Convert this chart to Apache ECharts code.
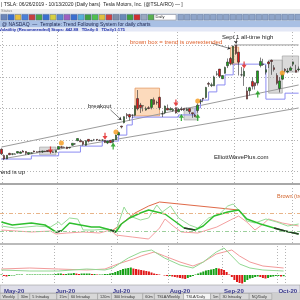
<!DOCTYPE html>
<html lang="en">
<head>
<meta charset="UTF-8" />
<title>TSLA daily - trend following</title>
<script type="text/javascript" src="https://cdn.jsdelivr.net/npm/echarts@6/dist/echarts.min.js"></script>
<style>
html, body { margin: 0; padding: 0; background: #fff; }
#main { width: 300px; height: 300px; }
</style>
</head>
<body>
<div id="main"></div>
<script type="text/javascript">
// trading days shown: Apr 30 2020 .. Oct 5 2020
var holidays = ['2020-05-25', '2020-07-03', '2020-09-07'];
var dates = [];
(function () {
    var d = new Date(Date.UTC(2020, 3, 30));
    var end = Date.UTC(2020, 9, 5);
    while (d.getTime() <= end) {
        var s = d.toISOString().slice(0, 10);
        var wd = d.getUTCDay();
        if (wd != 0 && wd != 6 && holidays.indexOf(s) < 0) dates.push(s);
        d.setUTCDate(d.getUTCDate() + 1);
    }
})();
var monthNames = ['Jan','Feb','Mar','Apr','May','Jun','Jul','Aug','Sep','Oct','Nov','Dec'];

// [open, close, low, high]
var ohlc = [
    [171.0,156.4,152.7,174.0],
    // May
    [151.0,140.3,136.6,154.6],[140.2,152.2,139.6,152.4],[158.0,153.6,152.4,159.8],[155.3,156.5,152.2,158.0],
    [155.4,156.0,155.0,158.3],[158.8,163.9,157.4,164.8],[158.1,162.3,157.0,164.8],[165.4,161.9,161.6,168.7],
    [164.2,158.2,152.7,165.2],[156.0,160.7,152.8,160.7],[158.1,159.8,157.3,161.0],[165.6,162.7,160.8,166.9],
    [163.0,161.6,161.2,164.4],[164.1,163.1,162.4,165.2],[163.2,165.5,159.2,166.5],[164.4,163.4,162.4,166.4],
    [166.9,163.8,163.1,166.9],[164.2,164.0,157.0,165.5],[162.7,161.2,160.3,165.0],[161.8,167.0,160.8,167.0],
    // Jun
    [171.6,179.6,170.8,179.8],[178.9,176.3,174.2,181.7],[177.6,176.6,176.0,179.6],[178.0,172.9,171.7,179.2],
    [175.6,177.1,173.2,177.3],[183.8,190.0,181.8,190.0],[188.0,188.1,184.8,190.9],[198.4,205.0,196.5,205.5],
    [198.0,194.6,194.4,203.8],[196.0,187.1,182.5,197.6],[183.6,198.2,181.7,199.8],[202.4,196.4,192.5,202.6],
    [197.4,198.4,196.5,201.0],[200.6,200.8,198.9,203.8],[202.4,200.2,198.3,203.2],[199.8,198.9,198.8,201.8],
    [199.8,200.4,198.8,202.4],[198.8,192.2,190.6,200.2],[190.9,197.2,187.4,197.2],[199.0,191.9,191.0,199.0],
    [193.8,201.9,189.7,202.0],[201.3,216.0,200.7,217.5],
    // Jul
    [216.6,223.9,216.1,227.1],[244.3,241.7,237.1,245.6],[255.3,274.3,253.2,275.6],[281.0,278.0,267.3,285.9],
    [281.0,273.2,262.3,283.5],[279.4,278.9,270.3,281.7],[279.2,308.9,275.2,309.8],[331.8,299.4,294.2,359.0],
    [311.2,303.4,286.2,318.0],[308.6,309.2,291.4,310.0],[295.4,300.1,293.2,306.3],[302.7,300.2,298.0,307.6],
    [303.8,328.6,297.6,330.0],[328.0,313.7,311.6,335.0],[319.8,318.5,312.4,325.3],[335.8,302.6,296.0,337.8],
    [283.2,283.4,273.3,293.0],[287.0,307.9,282.6,309.6],[300.8,295.3,294.9,312.9],[295.3,299.8,294.8,304.6],
    [294.0,297.5,290.0,302.0],[303.0,286.2,284.0,303.4],
    // Aug
    [289.8,297.0,288.9,302.0],[299.0,297.4,292.4,305.6],[300.5,297.0,292.6,300.5],[294.2,297.9,293.1,303.0],
    [300.0,290.5,283.0,300.0],[286.8,283.7,270.8,287.2],[279.2,274.9,272.9,284.0],[294.0,311.0,287.0,317.0],
    [322.0,324.2,314.2,330.2],[333.0,330.1,320.3,333.6],[335.4,367.1,332.0,369.0],[379.8,377.4,369.0,384.8],
    [373.0,375.7,368.3,382.2],[372.1,400.4,371.6,404.4],[408.9,410.0,404.3,419.1],[425.3,402.8,397.0,425.8],
    [395.0,404.7,393.6,405.6],[412.0,430.6,410.7,433.2],[436.0,447.8,428.5,459.1],[459.0,442.7,437.3,463.7],
    [444.6,498.3,440.1,500.1],
    // Sep
    [502.1,475.1,470.5,502.5],[479.0,447.4,405.1,479.0],[407.2,407.0,402.0,431.8],[402.8,418.3,372.0,428.0],
    [356.0,330.2,329.9,368.7],[356.6,366.3,341.5,369.0],[386.2,371.3,360.6,399.0],[381.9,372.7,360.5,382.5],
    [381.0,419.6,373.3,420.0],[436.6,449.8,430.7,461.9],[439.9,441.8,435.3,457.8],[415.6,423.4,408.0,437.8],
    [447.9,442.2,428.8,451.0],[453.1,449.4,407.1,455.7],[429.6,424.2,417.6,437.8],[405.2,380.4,375.9,412.2],
    [363.8,387.8,351.3,399.5],[393.5,407.3,391.3,408.7],[424.6,421.2,415.6,428.1],[416.0,419.1,411.6,428.5],
    [421.3,429.0,420.5,433.9],
    // Oct
    [440.8,448.2,434.4,448.9],[421.4,415.1,415.0,439.1],[423.4,425.7,419.3,433.6]
];

// trailing stop, [bar index, price] at each step
var stopSteps = [[0,140],[11,150],[21,162],[29,181],[37,197],[43,216],[46,248],[48,273],[65,280],[71,302],
    [73,327],[76,353],[79,375],[82,407],[85,441],[97,330],[104,349],[109,349]];
var channelLow = [[0,140],[109,302]];
var channelHigh = [[0,178],[109,375]];
var athLine = [[86,502],[109,502]];
var priceGrid = [100, 200, 300, 400, 500];

var orangeDots = [[22,191],[42,226],[72,324],[103,413]];
var redArrows = [[18,169],[38,212],[64,318],[89,438]];
var greenArrows = [[41,181],[66,272],[72,272],[94,346]];
// [from bar, to bar, low, high]
var greyBoxes = [[14,20,153,178],[67,72,264,302],[98,103,349,454],[103,109,416,467]];
var brownBoxes = [[49,58,277,365],[84,87,441,495]];

// upper indicator panel
var adxLine = [[0,21],[4,18],[11,20],[16,18],[20,11],[22,12],[25,20],[29,18],[33,16],[36,16],[40,13],[42,11],
    [44,19],[47,25],[51,30],[54,33],[60,29],[63,23],[67,15],[71,13],[74,17],[78,27],[83,31],[87,33],
    [90,24],[95,19],[100,15],[104,12],[109,9]];
var adxDark = [[20,22],[40,42],[67,71],[100,109]];
var adxFast = [[0,17],[5,15],[13,17],[18,16],[21,21],[22,18],[25,25],[28,24],[30,13],[34,13],[39,14],[42,12],
    [45,36],[46,31],[48,26],[51,23],[54,25],[57,38],[59,31],[62,37],[65,25],[69,18],[72,15],[76,25],
    [80,29],[83,37],[85,39],[88,30],[90,22],[93,20],[97,24],[101,21],[105,17],[109,19]];
var diMinus = [[0,13],[11,11],[18,12],[20,9],[24,10],[30,11],[36,10],[40,13],[42,8],[48,6],[54,4],[58,15],
    [60,24],[63,17],[66,11],[72,10],[79,16],[84,23],[87,27],[90,21],[93,13],[96,19],[98,24],[103,20],[109,17]];
var diPlus = [[40,11],[43,17],[49,30],[54,37],[58,41],[87,33],[88,30]];
var levelHigh = 30, levelLow = 12;

// lower indicator panel
var histVals = [
    0.5,
    -1,-1.5,-1,-0.5,-0.5,0.5,0.5,0.5,0,0.5,0.5,0.5,0.5,0.5,0.5,0.5,0.5,0.5,0.5,0.5,
    1,1.5,1.5,1,1,1.5,1.5,2,1.5,1,1.5,1.5,1.5,1.5,1,1,0.5,0.5,0.5,1,1,1.5,
    2,3,4,5,6,6.5,7,7.5,6.5,6,5.5,5,4.5,4,3.5,2.5,1.5,1,0.5,0,-0.5,-1,
    -1,-1.5,-2,-2.5,-3,-3.5,-4,-3,-2,-1,0.5,1.5,2.5,3.5,4.5,5,5.5,6,7,6.5,6,
    5,3,0.5,-2,-5,-7,-8,-8.5,-7,-5,-3.5,-3,-2,-1.5,-2,-3,-3.5,-3,-2,-1.5,-1,
    -1,-1.5,-1.2
];
var macdLine = [[0,6],[11,7],[22,6],[33,5],[40,6],[45,11],[51,16],[54,19],[59,23],[63,19],[69,13],[74,9],
    [78,13],[83,21],[89,25],[92,19],[96,13],[101,9],[109,7]];
var signalLine = [[0,5],[11,4],[22,4],[33,6],[40,5],[43,7],[49,17],[54,23],[58,25],[63,17],[69,10],[74,7],
    [78,13],[83,23],[86,27],[89,19],[92,11],[96,7],[101,5],[109,4]];

var tabNames = ['Weekly','30m','5 Intraday','15m','60 Intraday','120m','300 Intraday','60m','TSLA/Weekly','TSLA/Daily','5m','30 Intraday','NQ/Daily'];
var toolColors = ['#6b86b8','#3a6fd0','#e8c040','#4a7fd8','#c84040','#48a848','#3a6fd0','#d8d040','#5888d0','#a060c0',
    '#3a6fd0','#58b0d8','#40a040','#50c050','#e0c040','#d04040','#8090a8','#6a8ab8','#40a040','#d03030','#9aa8c0','#5ab050'];

function monthStart(i) {
    return i > 0 && dates[i].slice(5, 7) != dates[i - 1].slice(5, 7);
}
function monthLabel(v) {
    return monthNames[parseInt(v.slice(5, 7), 10) - 1] + '-' + v.slice(2, 4);
}
function box(b, style) {
    return [{ xAxis: dates[b[0]], yAxis: b[2], itemStyle: style }, { xAxis: dates[b[1]], yAxis: b[3] }];
}

var myChart = echarts.init(document.getElementById('main'));

var dotted = { show: true, interval: function (i) { return monthStart(i); },
    lineStyle: { color: '#b4b4b4', type: [1, 2], width: 1 } };
function xax(grid, showLabel) {
    return {
        type: 'category', gridIndex: grid, data: dates, boundaryGap: true,
        axisLine: { show: false }, axisTick: { show: false },
        axisLabel: showLabel ? {
            show: true, interval: function (i) { return monthStart(i); },
            formatter: monthLabel, fontSize: 6, fontWeight: 'bold', color: '#3c3c8c',
            fontFamily: 'Liberation Sans', margin: 3, align: 'left'
        } : { show: false },
        splitLine: dotted
    };
}

var series = [];
var greyStyle = { color: 'rgba(150,150,150,0.35)', borderColor: '#9a9a9a', borderWidth: 0.6 };
var brownStyle = { color: 'rgba(251,205,165,0.75)', borderColor: '#e59a66', borderWidth: 0.8 };
var areas = greyBoxes.map(function (b) { return box(b, greyStyle); })
    .concat(brownBoxes.map(function (b) { return box(b, brownStyle); }));

series.push({
    type: 'line', xAxisIndex: 0, yAxisIndex: 0, data: [], z: 1, silent: true,
    markArea: { silent: true, data: areas },
    markLine: {
        silent: true, symbol: 'none', label: { show: false },
        lineStyle: { color: '#b4b4b4', type: [1, 2], width: 1 },
        data: priceGrid.map(function (p) { return { yAxis: p }; })
    }
});
function simpleLine(data, color, width, xi, extra) {
    var s = {
        type: 'line', xAxisIndex: xi, yAxisIndex: xi, data: data, symbol: 'none', silent: true,
        lineStyle: { color: color, width: width }, z: 3
    };
    for (var k in extra) s[k] = extra[k];
    return s;
}
series.push(simpleLine(channelLow, '#9c9c9c', 1, 0));
series.push(simpleLine(channelHigh, '#9c9c9c', 1, 0));
series.push(simpleLine(athLine, '#9c9c9c', 1, 0));
series.push(simpleLine(stopSteps, '#8c8cf2', 1, 0, { step: 'end' }));
series.push({
    type: 'candlestick', xAxisIndex: 0, yAxisIndex: 0, data: ohlc, barWidth: 2, z: 5,
    itemStyle: { color: '#18a818', color0: '#e01818', borderColor: '#2a2a2a', borderColor0: '#2a2a2a', borderWidth: 0.6 }
});
series.push({
    type: 'scatter', xAxisIndex: 0, yAxisIndex: 0, data: orangeDots, symbolSize: 5, z: 6,
    itemStyle: { color: '#f59a1a' }
});
series.push({
    type: 'scatter', xAxisIndex: 0, yAxisIndex: 0, data: redArrows, z: 6, symbolSize: [5, 7],
    symbol: 'path://M3,0 L5,0 L5,4 L8,4 L4,9 L0,4 L3,4 Z', itemStyle: { color: '#e01818' }
});
series.push({
    type: 'scatter', xAxisIndex: 0, yAxisIndex: 0, data: greenArrows, z: 6, symbolSize: [5, 7],
    symbol: 'path://M3,9 L5,9 L5,5 L8,5 L4,0 L0,5 L3,5 Z', itemStyle: { color: '#109a10' }
});
// annotation pointers
series.push({
    type: 'line', xAxisIndex: 0, yAxisIndex: 0, data: [], z: 7, silent: true,
    markLine: {
        silent: true, symbol: ['none', 'arrow'], symbolSize: 3, label: { show: false },
        lineStyle: { color: '#333', width: 0.6, type: 'solid' },
        data: [
            [{ coord: [dates[40], 296] }, { coord: [dates[44], 264] }],
            [{ coord: [dates[86], 522] }, { coord: [dates[86], 506] }],
            [{ coord: [dates[77], 508] }, { coord: [dates[84], 490] }]
        ]
    }
});

// upper panel
series.push({
    type: 'line', xAxisIndex: 1, yAxisIndex: 1, data: [], silent: true,
    markLine: {
        silent: true, symbol: 'none', label: { show: false },
        data: [
            { yAxis: levelHigh, lineStyle: { color: '#e8b488', type: [4, 2, 1, 2], width: 1 } },
            { yAxis: levelLow, lineStyle: { color: '#9ccf9c', type: [4, 2, 1, 2], width: 1 } }
        ]
    }
});
series.push(simpleLine(diMinus, '#f4a0a0', 1, 1));
series.push(simpleLine(diPlus, '#e06a48', 1, 1));
series.push(simpleLine(adxFast, '#98dc98', 1, 1));
series.push(simpleLine(adxLine, '#2fbf2f', 1.5, 1));
adxDark.forEach(function (r) {
    series.push(simpleLine(adxLine.filter(function (p) { return p[0] >= r[0] && p[0] <= r[1]; }), '#2a3a2a', 1.5, 1));
});

// lower panel
series.push({
    type: 'bar', xAxisIndex: 2, yAxisIndex: 2, barWidth: 2, silent: true,
    data: histVals.map(function (v, i) {
        var up = i == 0 || v >= histVals[i - 1];
        return { value: v, itemStyle: { color: up ? '#16a016' : '#e01818' } };
    })
});
series.push(simpleLine(macdLine, '#f29a9a', 1, 2));
series.push(simpleLine(signalLine, '#92d892', 1, 2));

// window chrome and notes
var g = [];
g.push({ type: 'rect', shape: { x: 0, y: 0, width: 300, height: 9 }, style: { fill: '#ffffff' }, z: -1 });
g.push({ type: 'text', x: 1, y: 4.5, style: { text: '| TSLA: 06/26/2019 - 10/13/2020 (Daily bars)  Tesla Motors, Inc. (@TSLA/RO) — ]', fontSize: 5, fill: '#222', fontFamily: 'Liberation Sans', verticalAlign: 'middle' } });
g.push({ type: 'rect', shape: { x: 0, y: 9, width: 300, height: 4.5 }, style: { fill: '#eeeeee' }, z: -1 });
g.push({ type: 'text', x: 1, y: 11.2, style: { text: 'Status', fontSize: 4, fill: '#888', fontFamily: 'Liberation Sans', verticalAlign: 'middle' } });
g.push({ type: 'rect', shape: { x: 0, y: 13.5, width: 300, height: 7.5 }, style: { fill: '#bccbe0' }, z: -1 });
toolColors.forEach(function (c, i) {
    g.push({ type: 'rect', shape: { x: 1 + i * 7, y: 14.5, width: 6, height: 5.5 }, style: { fill: c, stroke: '#55688a', lineWidth: 0.4 } });
});
g.push({ type: 'rect', shape: { x: 154, y: 14.5, width: 22, height: 5.5 }, style: { fill: '#fff', stroke: '#667', lineWidth: 0.4 } });
g.push({ type: 'text', x: 155.5, y: 17.3, style: { text: 'Daily', fontSize: 4, fill: '#222', fontFamily: 'Liberation Sans', verticalAlign: 'middle' } });
for (var bx = 178; bx < 300; bx += 6.5) {
    g.push({ type: 'rect', shape: { x: bx, y: 14.5, width: 5.5, height: 5.5 }, style: { fill: '#8fa5c9', stroke: '#5d7096', lineWidth: 0.4 } });
}
g.push({ type: 'rect', shape: { x: 0, y: 21, width: 300, height: 6.5 }, style: { fill: '#a9c0e4' }, z: -1 });
g.push({ type: 'text', x: 2, y: 24.3, style: { text: '@ NASDAQ  —  Template: Trend Following System for daily charts', fontSize: 5, fill: '#1c2450', fontFamily: 'Liberation Sans', verticalAlign: 'middle' } });
g.push({ type: 'rect', shape: { x: 0, y: 27.5, width: 300, height: 4 }, style: { fill: '#e4e8f6' }, z: -1 });
g.push({ type: 'text', x: -1, y: 29.5, style: { text: 'Volatility (Recommended) Stops: 442.88   TDaily:0   TDaily1:175', fontSize: 4.2, fontWeight: 'bold', fill: '#2030a8', fontFamily: 'Liberation Sans', verticalAlign: 'middle' } });
g.push({ type: 'rect', shape: { x: 0, y: 183, width: 300, height: 2 }, style: { fill: '#a8a8a8' } });
g.push({ type: 'rect', shape: { x: 0, y: 243.2, width: 300, height: 1.6 }, style: { fill: '#a4a4a4' } });
g.push({ type: 'rect', shape: { x: 0, y: 285, width: 300, height: 8 }, style: { fill: '#dedee8', stroke: '#9a9a9a', lineWidth: 0.6 }, z: -1 });
g.push({ type: 'rect', shape: { x: 0, y: 293, width: 300, height: 7 }, style: { fill: '#cfcfcf' }, z: -1 });
var tx = 0;
tabNames.forEach(function (t, i) {
    var w = t.length * 2.2 + 5;
    g.push({ type: 'rect', shape: { x: tx, y: 293.5, width: w, height: 6 }, style: { fill: i == 9 ? '#f4f4f4' : '#d8d8d8', stroke: '#8a8a8a', lineWidth: 0.4 } });
    g.push({ type: 'text', x: tx + 2.5, y: 296.6, style: { text: t, fontSize: 3.8, fill: '#333', fontFamily: 'Liberation Sans', verticalAlign: 'middle' } });
    tx += w;
});
function note(x, y, text, color, size, align) {
    g.push({ type: 'text', x: x, y: y, z: 50, style: { text: text, fontSize: size, fill: color, fontFamily: 'Liberation Sans', verticalAlign: 'middle', align: align || 'left' } });
}
note(130, 42, 'brown box = trend is overextended', '#e0602a', 6);
note(222, 37, 'Sept 1 all-time high', '#222', 6);
note(88, 106, 'breakout', '#222', 6);
note(25, 172, 'trend is up', '#222', 6, 'right');
note(214, 157, 'ElliottWavePlus.com', '#222', 6);
note(277, 196, 'Brown (trend is overextended)', '#d2642c', 5.5);

var option = {
    animation: false,
    backgroundColor: '#ffffff',
    grid: [
        { left: -1, right: -3, top: 32, height: 151 },
        { left: -1, right: -3, top: 188, height: 55 },
        { left: -1, right: -3, top: 246, height: 39 }
    ],
    xAxis: [xax(0, false), xax(1, false), xax(2, true)],
    yAxis: [
        { gridIndex: 0, min: 64, max: 543, show: false },
        { gridIndex: 1, min: 0, max: 55, show: false },
        { gridIndex: 2, min: -10, max: 29, show: false }
    ],
    graphic: { elements: g },
    series: series
};
myChart.setOption(option);
</script>
</body>
</html>
